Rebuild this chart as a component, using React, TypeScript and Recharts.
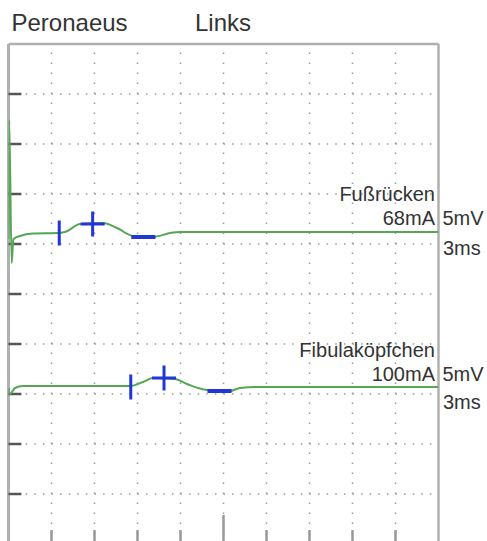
import React from 'react';
import { LineChart, Line, XAxis, YAxis, ReferenceLine } from 'recharts';

// Time axis (ms) and amplitude axis (mV): 10 divisions of 3 ms, 10 divisions of 5 mV
const xTicks = [3, 6, 9, 12, 15, 18, 21, 24, 27];
const yTicks = [5, 10, 15, 20, 25, 30, 35, 40, 45];

// Trace 1: Fußrücken
const trace1 = [
  { t: 0.0, v: 30.5 },
  { t: 0.05, v: 42.4 },
  { t: 0.22, v: 28.1 },
  { t: 0.34, v: 30.5 },
  { t: 0.8, v: 30.8 },
  { t: 1.71, v: 31.05 },
  { t: 3.38, v: 31.1 },
  { t: 3.94, v: 31.2 },
  { t: 4.99, v: 32.0 },
  { t: 6.59, v: 32.1 },
  { t: 7.57, v: 31.6 },
  { t: 8.69, v: 30.8 },
  { t: 10.08, v: 30.7 },
  { t: 11.27, v: 31.1 },
  { t: 11.97, v: 31.2 },
  { t: 30.0, v: 31.2 },
];

// Trace 2: Fibulaköpfchen
const trace2 = [
  { t: 0.0, v: 15.6 },
  { t: 0.1, v: 15.0 },
  { t: 0.45, v: 15.6 },
  { t: 1.01, v: 15.8 },
  { t: 8.48, v: 15.8 },
  { t: 9.38, v: 16.2 },
  { t: 10.08, v: 16.6 },
  { t: 11.62, v: 16.5 },
  { t: 12.45, v: 16.0 },
  { t: 13.85, v: 15.4 },
  { t: 15.45, v: 15.3 },
  { t: 16.15, v: 15.6 },
  { t: 17.55, v: 15.7 },
  { t: 30.0, v: 15.7 },
];

// Markers: onset (vertical bar), peak (cross), trough (horizontal bar)
const markers1 = [
  { t: 3.54, v: 31.1, kind: 'onset' },
  { t: 5.87, v: 32.0, kind: 'peak' },
  { t: 9.41, v: 30.7, kind: 'trough' },
];
const markers2 = [
  { t: 8.53, v: 15.7, kind: 'onset' },
  { t: 10.85, v: 16.6, kind: 'peak' },
  { t: 14.72, v: 15.3, kind: 'trough' },
];

const title = ['Peronaeus', 'Links'];
const labels1 = ['Fußrücken', '68mA', '5mV', '3ms'];
const labels2 = ['Fibulaköpfchen', '100mA', '5mV', '3ms'];

const GREEN = '#55a655';
const BLUE = '#2236d8';
const GRID = '#9a9a9a';
const FRAME = '#b0b0b0';
const HV = 1.25; // marker vertical half length (mV)
const HH = 0.84; // marker horizontal half length (ms)

function markerLines(markers: { t: number; v: number; kind: string }[], key: string) {
  const out: React.ReactElement[] = [];
  markers.forEach((m, i) => {
    if (m.kind === 'onset' || m.kind === 'peak') {
      out.push(
        <ReferenceLine
          key={`${key}-v-${i}`}
          segment={[{ x: m.t, y: m.v - HV }, { x: m.t, y: m.v + HV }]}
          stroke={BLUE}
          strokeWidth={3}
        />
      );
    }
    if (m.kind === 'peak' || m.kind === 'trough') {
      out.push(
        <ReferenceLine
          key={`${key}-h-${i}`}
          segment={[{ x: m.t - HH, y: m.v }, { x: m.t + HH, y: m.v }]}
          stroke={BLUE}
          strokeWidth={m.kind === 'trough' ? 4 : 3}
        />
      );
    }
  });
  return out;
}

export default function App() {
  const font = '"Liberation Sans", Arial, sans-serif';
  return (
    <div style={{ position: 'absolute', left: 0, top: 0, width: 487, height: 541, overflow: 'hidden', background: '#fff' }}>
      <LineChart
        width={487}
        height={560}
        margin={{ top: 44, left: 8.5, right: 48.5, bottom: 16 }}
      >
        <XAxis type="number" dataKey="t" domain={[0, 30]} hide allowDataOverflow />
        <YAxis type="number" domain={[0, 50]} hide allowDataOverflow />
        {xTicks.map((x) => (
          <ReferenceLine key={`gx${x}`} x={x} stroke={GRID} strokeWidth={1.5} strokeDasharray="1.5 8.5" />
        ))}
        {yTicks.map((y) => (
          <ReferenceLine key={`gy${y}`} y={y} stroke={GRID} strokeWidth={1.5} strokeDasharray="1.5 7.1" />
        ))}
        <ReferenceLine y={50} stroke={FRAME} strokeWidth={2.5} />
        <ReferenceLine x={0} stroke={FRAME} strokeWidth={3} />
        <ReferenceLine x={30} stroke={FRAME} strokeWidth={2.5} />
        {yTicks.map((y) => (
          <ReferenceLine key={`ly${y}`} segment={[{ x: 0, y }, { x: 0.9, y }]} stroke="#555" strokeWidth={2.5} />
        ))}
        {xTicks.map((x) => (
          <ReferenceLine
            key={`bx${x}`}
            segment={[{ x, y: 0 }, { x, y: x === 15 ? 2.9 : 1.4 }]}
            stroke="#999"
            strokeWidth={2.5}
          />
        ))}
        <Line data={trace1} dataKey="v" type="monotone" stroke={GREEN} strokeWidth={2} dot={false} isAnimationActive={false} />
        <Line data={trace2} dataKey="v" type="monotone" stroke={GREEN} strokeWidth={2} dot={false} isAnimationActive={false} />
        {markerLines(markers1, 'm1')}
        {markerLines(markers2, 'm2')}
      </LineChart>
      <svg width={487} height={541} style={{ position: 'absolute', left: 0, top: 0, pointerEvents: 'none' }}>
        <g fontFamily={font} fill="#333">
          <text x={11.5} y={30.5} fontSize={24}>{title[0]}</text>
          <text x={195} y={30.5} fontSize={24}>{title[1]}</text>
          <text x={435} y={200.5} fontSize={20} textAnchor="end">{labels1[0]}</text>
          <text x={435} y={225} fontSize={20} textAnchor="end">{labels1[1]}</text>
          <text x={442.5} y={225} fontSize={20}>{labels1[2]}</text>
          <text x={443} y={255} fontSize={20}>{labels1[3]}</text>
          <text x={435} y={357} fontSize={20} textAnchor="end">{labels2[0]}</text>
          <text x={435} y={381} fontSize={20} textAnchor="end">{labels2[1]}</text>
          <text x={442.5} y={381} fontSize={20}>{labels2[2]}</text>
          <text x={443} y={409} fontSize={20}>{labels2[3]}</text>
        </g>
      </svg>
    </div>
  );
}
